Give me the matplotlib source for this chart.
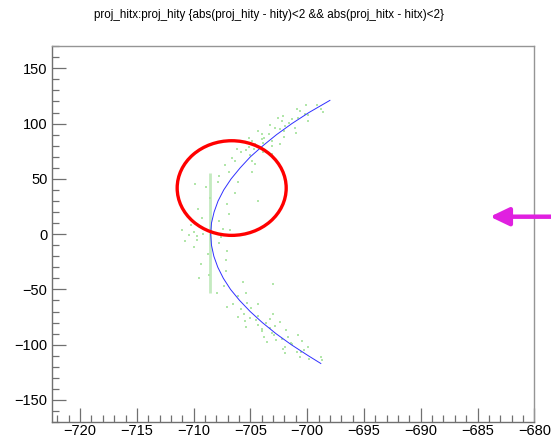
import matplotlib
matplotlib.use("Agg")
import matplotlib.pyplot as plt
from matplotlib.patches import Ellipse
from matplotlib.ticker import MultipleLocator

plt.rcParams['font.family'] = ['Liberation Sans', 'DejaVu Sans']

title = "proj_hitx:proj_hity {abs(proj_hity - hity)<2 && abs(proj_hitx - hitx)<2}"

# Blue curve (proj_hitx vs proj_hity)
blue_x = [-698.0, -699.85, -701.35, -702.7, -703.9, -705.0, -705.9, -706.7, -707.35,
          -707.85, -708.2, -708.43, -708.5, -708.43, -708.22, -707.87, -707.38, -706.75,
          -705.95, -705.02, -703.95, -702.75, -701.4, -699.9, -698.8]
blue_y = [121, 110, 100, 90, 80, 70, 60, 50, 40, 30, 20, 10, 0, -10, -20, -30, -40, -50,
          -60, -70, -80, -90, -100, -110, -117]

# Green scattered hits
green_x = [-699.11, -700.10, -698.77, -700.89, -700.59, -698.62, -702.11, -699.92,
           -701.37, -702.55, -699.96, -702.19, -701.93, -703.24, -701.11, -702.86,
           -704.32, -702.05, -703.98, -700.97, -703.79, -705.15, -703.06, -704.88,
           -702.39, -703.87, -705.14, -703.07, -706.16, -704.72, -703.89, -705.83,
           -705.00, -703.11, -706.39, -704.84, -707.26, -704.60, -706.86, -704.83,
           -707.79, -706.12, -707.89, -708.88, -706.32, -708.52, -707.08, -709.62,
           -706.86, -709.24, -707.80, -710.25, -707.38,
           -710.0, -710.4, -709.2, -707.6, -706.8, -709.7,
           -709.68, -707.75, -709.99, -707.04, -708.77, -707.12, -709.38, -707.12,
           -708.62, -705.68, -707.32, -705.39, -707.95, -706.06, -706.56, -704.31,
           -707.09, -704.95, -703.00, -705.56, -704.29, -706.12, -703.26, -704.51,
           -705.44, -702.39, -704.29, -702.81, -705.36, -703.30, -701.89, -704.01,
           -702.88, -700.81, -703.82, -701.68, -702.71, -700.50, -703.53, -701.46,
           -701.96, -699.90, -702.17, -700.28, -700.51, -701.94, -698.79, -700.61,
           -699.87, -698.67,
           -711.0, -710.8, -709.9, -704.3, -709.5, -703.0,
           -700.8, -701.6, -702.4, -703.4, -704.0, -702.0, -700.2, -704.6, -705.4,
           -706.6, -700.9, -701.3, -702.2, -703.1, -704.0, -703.6, -705.0, -705.8,
           -705.3]
green_y = [117, 116.5, 113, 113.5, 111, 110.2, 107, 107.6,
           104, 104.8, 102, 102.5, 98, 98.7, 96, 96.4,
           93, 93.5, 91, 91.8, 87, 87.3, 84, 84.6,
           82, 82.2, 79, 79.6, 77, 77.4, 74, 74.5,
           72, 72.8, 66, 66.5, 63, 63.7, 56, 56.4,
           53, 47, 47.5, 43, 37, 33, 27, 23,
           18, 15, 12, 8, 5,
           2, -1, 0.5, -3, 3.5, -2,
           -5, -8, -12, -15, -18, -23, -27, -33,
           -37, -43, -47, -53, -53.5, -56, -63, -63.6,
           -66, -66.4, -72, -72.3, -74, -74.6, -77, -77.5,
           -79, -79.4, -82, -82.7, -84, -84.5, -87, -87.6,
           -91, -91.5, -93, -93.3, -96, -96.8, -98, -98.5,
           -102, -102.4, -104, -104.6, -107, -107.5, -111, -111.5,
           -113, -113.6,
           4, -6, 45, 30, -40, -45,
           105.5, 100.6, 95.3, 90.2, 86.4, 88.1, 109.1, 81.3, 76.2,
           68.8, -106.2, -99.8, -94.7, -89.5, -85.6, -80.3, -75.4, -68.1,
           -62.4]

# Green vertical segment
vline_x = -708.55
vline_y = [-53, 55]

# Red ellipse annotation (center, width, height in data units)
ell_center = (-706.65, 41.7)
ell_w, ell_h = 9.6, 85.6

W, H = 551, 440
fig = plt.figure(figsize=(W / 100, H / 100), dpi=100)
ax = fig.add_axes([51.7 / W, 1 - 422.3 / H, (534.3 - 51.7) / W, (422.3 - 46) / H])

ax.set_xlim(-722.5, -680)
ax.set_ylim(-170.2, 170.2)

ax.vlines(vline_x, vline_y[0], vline_y[1], colors='#c4eac0', lw=2.0, zorder=1)
ax.scatter(green_x, green_y, s=1.0, marker='s', color='#b2e6aa', linewidths=0, zorder=2)
ax.plot(blue_x, blue_y, color='#3030ff', lw=0.7, zorder=3)

ax.add_patch(Ellipse(ell_center, ell_w, ell_h, fill=False, edgecolor='#ff0000', lw=2.4, zorder=4))

ax.xaxis.set_major_locator(MultipleLocator(5))
ax.xaxis.set_minor_locator(MultipleLocator(1))
ax.yaxis.set_major_locator(MultipleLocator(50))
ax.yaxis.set_minor_locator(MultipleLocator(10))
ax.tick_params(which='both', direction='in', top=False, right=False, colors='#707070',
               labelcolor='black', labelsize=10.5, width=0.9)
ax.tick_params(which='major', length=10)
ax.tick_params(which='minor', length=5)
ax.tick_params(axis='x', which='major', pad=1.0)
ax.tick_params(axis='y', which='major', pad=3.0)
for s in ['left', 'bottom']:
    ax.spines[s].set_color('#707070')
    ax.spines[s].set_linewidth(1.0)
for s in ['top', 'right']:
    ax.spines[s].set_color('#959595')
    ax.spines[s].set_linewidth(1.0)

fig.text(268.5 / W, 1 - 15 / H, title, ha='center', va='center', fontsize=8.4)

# Magenta arrow pointing left (figure pixel coordinates)
ax.annotate('', xy=(490, H - 216.7), xycoords='figure pixels',
            xytext=(553, H - 216.7), textcoords='figure pixels',
            arrowprops=dict(arrowstyle='-|>,head_length=1.13,head_width=0.54',
                            mutation_scale=10, lw=3.2, color='#e020e0',
                            shrinkA=0, shrinkB=0),
            annotation_clip=False, zorder=5)

fig.savefig('out.png', dpi=100)
